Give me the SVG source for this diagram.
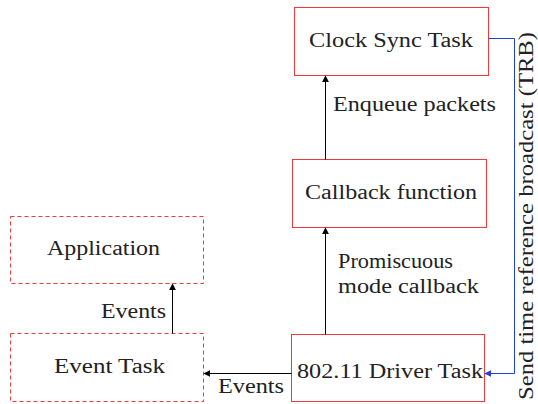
<svg xmlns="http://www.w3.org/2000/svg" width="538" height="404" viewBox="0 0 538 404">
<style>
text{font-family:"Liberation Serif","Times New Roman",serif;font-size:20px;fill:#222}
.box{fill:none;stroke:#f03a3a;stroke-width:1}
.dbox{fill:none;stroke:#f03a3a;stroke-width:1;stroke-dasharray:4 3}
.arr{fill:none;stroke:#000;stroke-width:1;marker-end:url(#ah)}
.barr{fill:none;stroke:#1f3fe0;stroke-width:1;marker-end:url(#bh)}
</style>
<defs>
<marker id="ah" viewBox="0 0 10 10" refX="9" refY="5" markerWidth="7" markerHeight="7" markerUnits="userSpaceOnUse" orient="auto"><path d="M0,0 L10,5 L0,10 Z" fill="#000"/></marker>
<marker id="bh" viewBox="0 0 10 10" refX="9" refY="5" markerWidth="7" markerHeight="7" markerUnits="userSpaceOnUse" orient="auto"><path d="M0,0 L10,5 L0,10 Z" fill="#1f3fe0"/></marker>
</defs>
<rect width="538" height="404" fill="#fff"/>
<g id="clock"><rect class="box" x="294.5" y="7.5" width="194" height="68"/><text x="309" y="47" textLength="164" lengthAdjust="spacingAndGlyphs">Clock Sync Task</text></g>
<g id="callback"><rect class="box" x="292.5" y="159.5" width="194" height="68"/><text x="305" y="199" textLength="172" lengthAdjust="spacingAndGlyphs">Callback function</text></g>
<g id="driver"><rect class="box" x="291.5" y="334.5" width="193" height="67"/><text x="297" y="378" textLength="186" lengthAdjust="spacingAndGlyphs">802.11 Driver Task</text></g>
<g id="application"><rect class="dbox" x="10.5" y="216.5" width="193" height="67"/><text x="47" y="255" textLength="113" lengthAdjust="spacingAndGlyphs">Application</text></g>
<g id="eventtask"><rect class="dbox" x="10.5" y="333.5" width="193" height="68"/><text x="54" y="373" textLength="111" lengthAdjust="spacingAndGlyphs">Event Task</text></g>
<g id="connectors">
<path class="arr" d="M325.5,159.5 L325.5,76"/>
<path class="arr" d="M325.5,334.5 L325.5,228"/>
<path class="arr" d="M172.5,333.5 L172.5,284"/>
<path class="arr" d="M291.5,373.5 L204,373.5"/>
<path class="barr" d="M488.5,38.5 L514.5,38.5 L514.5,373.5 L485,373.5"/>
<text x="333" y="111" textLength="163" lengthAdjust="spacingAndGlyphs">Enqueue packets</text>
<text x="338" y="268" textLength="115" lengthAdjust="spacingAndGlyphs">Promiscuous</text>
<text x="338" y="293" textLength="141" lengthAdjust="spacingAndGlyphs">mode callback</text>
<text x="101" y="318" textLength="65" lengthAdjust="spacingAndGlyphs">Events</text>
<text x="218" y="393" textLength="66" lengthAdjust="spacingAndGlyphs">Events</text>
<text transform="translate(533,216) rotate(-90)" text-anchor="middle" x="0" y="0" textLength="368" lengthAdjust="spacingAndGlyphs">Send time reference broadcast (TRB)</text>
</g>
</svg>
